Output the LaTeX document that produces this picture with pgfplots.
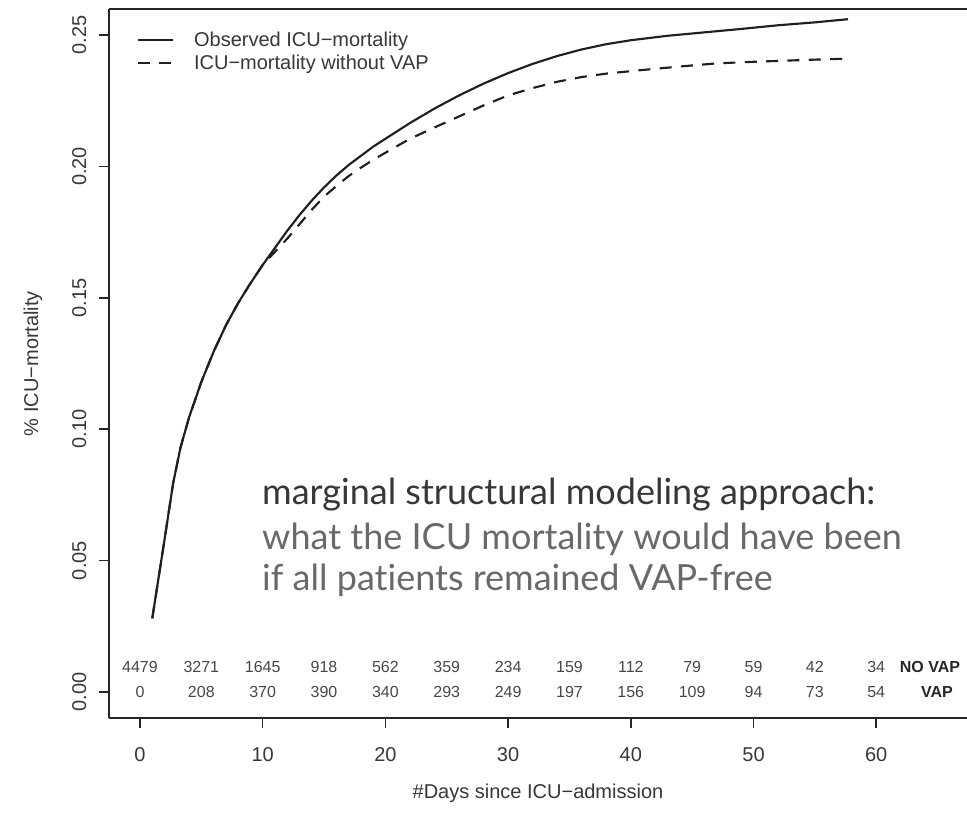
\documentclass[border=0pt]{standalone}
\usepackage{fontspec}
\setmainfont{Liberation Sans}
\newfontfamily\notefont[Ligatures=NoCommon]{Lato}
\usepackage{pgfplots}
\pgfplotsset{compat=1.18}
\definecolor{txt}{RGB}{55,55,55}
\definecolor{notedark}{RGB}{55,55,55}
\definecolor{notegray}{RGB}{105,105,105}

\begin{document}
\begin{tikzpicture}
\begin{axis}[
  scale only axis,
  width=643.5pt, height=531.75pt,
  xmin=-2.526, xmax=67.4,
  ymin=-0.00989, ymax=0.25989,
  axis x line=box, axis y line=left,
  axis line style={-, black!85, line width=1.1pt},
  xtick={0,10,20,30,40,50,60},
  ytick={0,0.05,0.10,0.15,0.20,0.25},
  xtick pos=bottom, ytick pos=left,
  tick align=outside, major tick length=7.5pt,
  tick style={black!85, line width=1.1pt},
  tick label style={font=\fontsize{15}{18}\selectfont, text=txt},
  /pgf/number format/assume math mode=true,
  yticklabel style={rotate=90, anchor=south, /pgf/number format/.cd, fixed, fixed zerofill, precision=2},
  xticklabel shift=11pt,
  yticklabel shift=6pt,
  xlabel={\#Days since ICU−admission},
  ylabel={\% ICU−mortality},
  every axis x label/.style={at={(axis description cs:0.5,-0.1058)}, anchor=center, font=\fontsize{15}{18}\selectfont, text=txt},
  every axis y label/.style={at={(axis description cs:-0.0886,0.5)}, anchor=center, rotate=90, font=\fontsize{15}{18}\selectfont, text=txt},
  legend style={draw=none, fill=none, at={(axis description cs:0.0326,0.968)}, anchor=north west,
    inner sep=0pt, outer sep=0pt, font=\fontsize{15}{17}\selectfont, text=txt,
    row sep=5pt, column sep=15pt, nodes={inner sep=0pt}},
  legend image code/.code={\draw[#1] (0pt,0pt) -- (26.25pt,0pt);},
  legend cell align=left,
]
% observed ICU mortality
\addplot[line width=1.6pt, color=black!88] coordinates {
  (1.0,0.028) (1.5,0.043) (2.0,0.058) (2.7,0.0794) (3.3,0.093) (4.0,0.1045)
  (5.0,0.118) (6.0,0.1295) (7.0,0.1395) (8.0,0.148) (9.0,0.1555) (10.0,0.1625)
  (11.0,0.169) (12.0,0.1755) (13.0,0.1815) (14.0,0.187) (15.0,0.192) (16.0,0.1965)
  (17.0,0.2005) (18.0,0.204) (19.0,0.2075) (20.0,0.2105) (22.0,0.2165) (24.0,0.222)
  (26.0,0.227) (28.0,0.2315) (30.0,0.2355) (32.0,0.239) (34.0,0.242) (36.0,0.2445)
  (38.0,0.2465) (40.0,0.248) (43.0,0.2497) (46.0,0.251) (49.0,0.2523) (52.0,0.2537)
  (55.0,0.2548) (57.7,0.256)
};
% counterfactual: no VAP
\addplot[line width=1.6pt, color=black!88, dash pattern=on 9pt off 7pt] coordinates {
  (1.0,0.028) (1.5,0.043) (2.0,0.058) (2.7,0.0794) (3.3,0.093) (4.0,0.1045)
  (5.0,0.118) (6.0,0.1295) (7.0,0.1395) (8.0,0.148) (9.0,0.1555) (10.0,0.1625)
  (11.0,0.1675) (12.0,0.1725) (13.0,0.178) (14.0,0.1835) (15.0,0.1885) (16.0,0.1925)
  (17.0,0.1963) (18.0,0.1995) (19.0,0.2025) (20.0,0.2052) (22.0,0.2105) (24.0,0.2148)
  (26.0,0.219) (28.0,0.2232) (30.0,0.227) (32.0,0.2298) (34.0,0.2322) (36.0,0.234)
  (38.0,0.2353) (41.0,0.2367) (44.0,0.238) (47.0,0.2392) (50.0,0.2398) (53.0,0.2403)
  (55.5,0.2407) (57.7,0.241)
};
\legend{Observed ICU−mortality, ICU−mortality without VAP}

% numbers at risk
\addplot[only marks, mark=none, nodes near coords, point meta=explicit symbolic,
  nodes near coords align=center,
  every node near coord/.style={font=\fontsize{12}{14}\selectfont, text=black!72, anchor=center}]
  table[meta=n] {
x y n
0 0.0095 4479
5 0.0095 3271
10 0.0095 1645
15 0.0095 918
20 0.0095 562
25 0.0095 359
30 0.0095 234
35 0.0095 159
40 0.0095 112
45 0.0095 79
50 0.0095 59
55 0.0095 42
60 0.0095 34
0 0 0
5 0 208
10 0 370
15 0 390
20 0 340
25 0 293
30 0 249
35 0 197
40 0 156
45 0 109
50 0 94
55 0 73
60 0 54
};
\node[font=\bfseries\fontsize{12}{14}\selectfont, text=black!85] at (axis cs:64.38,0.0095) {NO VAP};
\node[font=\bfseries\fontsize{12}{14}\selectfont, text=black!85] at (axis cs:64.95,0) {VAP};

% annotation
\node[anchor=base west, inner sep=0pt, font=\notefont\fontsize{27}{32}\selectfont, text=notedark]
  at (axis cs:9.94,0.07116) {marginal structural modeling approach:};
\node[anchor=base west, inner sep=0pt, font=\notefont\fontsize{27}{32}\selectfont, text=notegray]
  at (axis cs:9.94,0.05404) {what the ICU mortality would have been};
\node[anchor=base west, inner sep=0pt, font=\notefont\fontsize{27}{32}\selectfont, text=notegray]
  at (axis cs:9.94,0.03881) {if all patients remained VAP-free};
\end{axis}
\pgfresetboundingbox
\path[use as bounding box] (-81.75pt,-72pt) rectangle (643.5pt,538.5pt);
\end{tikzpicture}
\end{document}
